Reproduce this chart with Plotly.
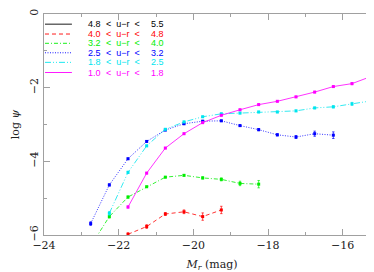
import plotly.graph_objects as go

# ---- data ----
bin_low = ["4.8", "4.0", "3.2", "2.5", "1.8", "1.0"]
bin_high = ["5.5", "4.8", "4.0", "3.2", "2.5", "1.8"]
colors = ["#000000", "#ff0000", "#00ee00", "#0000ff", "#00e5ee", "#ff00ff"]
dashes = ["solid", "4px,3px", "4px,2px,1px,2px", "1px,1.5px", "6px,2px,1px,2px,1px,2px", "solid"]

# 4.8 < u-r < 5.5 : entirely below the plotted range
x_black = []
y_black = []
e_black = []

x_red = [-21.75, -21.25, -20.75, -20.25, -19.75, -19.25]
y_red = [-5.98, -5.77, -5.43, -5.37, -5.50, -5.32]
e_red = [0.04, 0.05, 0.04, 0.05, 0.10, 0.10]

x_green = [-22.75, -22.25, -21.75, -21.25, -20.75, -20.25, -19.75, -19.25, -18.75, -18.25]
y_green = [-6.30, -5.50, -4.97, -4.69, -4.43, -4.38, -4.45, -4.49, -4.60, -4.62]
e_green = [0.05, 0.04, 0.03, 0.02, 0.02, 0.02, 0.03, 0.04, 0.06, 0.10]

x_blue = [-22.75, -22.25, -21.75, -21.25, -20.75, -20.25, -19.75, -19.25, -18.75, -18.25,
          -17.75, -17.25, -16.75, -16.25]
y_blue = [-5.69, -4.64, -3.93, -3.46, -3.15, -2.98, -2.91, -2.90, -3.03, -3.14,
          -3.28, -3.34, -3.25, -3.29]
e_blue = [0.05, 0.03, 0.02, 0.02, 0.02, 0.02, 0.02, 0.02, 0.02, 0.03,
          0.03, 0.04, 0.07, 0.09]

x_cyan = [-22.25, -21.75, -21.25, -20.75, -20.25, -19.75, -19.25, -18.75, -18.25, -17.75,
          -17.25, -16.75, -16.25, -15.75, -15.25]
y_cyan = [-5.41, -4.30, -3.58, -3.13, -2.93, -2.79, -2.71, -2.69, -2.66, -2.66,
          -2.63, -2.55, -2.52, -2.44, -2.36]
e_cyan = [0.05, 0.03, 0.02, 0.02, 0.02, 0.02, 0.02, 0.02, 0.02, 0.02,
          0.02, 0.02, 0.03, 0.04, 0.06]

x_mag = [-21.75, -21.25, -20.75, -20.25, -19.75, -19.25, -18.75, -18.25, -17.75, -17.25,
         -16.75, -16.25, -15.75, -15.25]
y_mag = [-5.24, -4.32, -3.64, -3.25, -2.95, -2.75, -2.60, -2.46, -2.37, -2.25,
         -2.12, -1.97, -1.89, -1.70]
e_mag = [0.03, 0.02, 0.02, 0.02, 0.02, 0.02, 0.02, 0.02, 0.02, 0.02,
         0.02, 0.02, 0.03, 0.04]

series = [
    (x_black, y_black, e_black),
    (x_red, y_red, e_red),
    (x_green, y_green, e_green),
    (x_blue, y_blue, e_blue),
    (x_cyan, y_cyan, e_cyan),
    (x_mag, y_mag, e_mag),
]

x_ticks = [-24, -22, -20, -18, -16]
y_ticks = [-6, -4, -2, 0]

fig = go.Figure()
for (xs, ys, es), c, d in zip(series, colors, dashes):
    fig.add_trace(go.Scatter(
        x=xs, y=ys, mode="lines+markers",
        line=dict(color=c, width=0.8, dash=d),
        marker=dict(color=c, size=3, symbol="square"),
        error_y=dict(type="data", array=es, color=c, thickness=0.7, width=1.2),
        showlegend=False, cliponaxis=True,
    ))

# ---- hand-made legend (top-left, inside the frame) ----
L, R, T, B = 36, 373, 3, 227  # plot area in pixels


def px(xp):
    return (xp - L) / (R - L)


def py(yp):
    return (B - yp) / (B - T)


row_y = [13.3, 23.3, 32.7, 42.3, 52.0, 62.3]
for lo, hi, c, d, ry in zip(bin_low, bin_high, colors, dashes, row_y):
    fig.add_shape(type="line", xref="paper", yref="paper",
                  x0=px(37), x1=px(64), y0=py(ry), y1=py(ry),
                  line=dict(color=c, width=0.9, dash=d))
    fnt = dict(family="Liberation Sans", size=9, color=c)
    fig.add_annotation(xref="paper", yref="paper", x=px(95), y=py(ry), text=lo,
                       showarrow=False, xanchor="right", yanchor="middle", font=fnt)
    fig.add_annotation(xref="paper", yref="paper", x=px(115.5), y=py(ry), text="<  u\u2212r  <",
                       showarrow=False, xanchor="center", yanchor="middle", font=fnt)
    fig.add_annotation(xref="paper", yref="paper", x=px(158), y=py(ry), text=hi,
                       showarrow=False, xanchor="right", yanchor="middle", font=fnt)

axis_common = dict(
    showgrid=False, zeroline=False,
    showline=True, linecolor="#a0a0a0", linewidth=1.3, mirror="ticks",
    ticks="inside", ticklen=6, tickwidth=1, tickcolor="#a0a0a0",
    ticklabeloverflow="allow",
    tickfont=dict(family="DejaVu Serif", size=11, color="#222"),
)

fig.update_layout(
    width=374, height=272,
    margin=dict(l=L, r=374 - R, t=T, b=272 - B),
    paper_bgcolor="white", plot_bgcolor="white",
    xaxis=dict(
        range=[-24, -15], tickvals=x_ticks,
        minor=dict(dtick=1, ticks="inside", ticklen=3, tickcolor="#a0a0a0"),
        title=dict(text="<i>M</i><sub><i>r</i></sub> (mag)", standoff=8,
                   font=dict(family="DejaVu Serif", size=11, color="#222")),
        **axis_common,
    ),
    yaxis=dict(
        range=[-6, 0], tickvals=y_ticks, tickangle=-90,
        minor=dict(dtick=1, ticks="inside", ticklen=3, tickcolor="#a0a0a0"),
        title=dict(text="log <i>\u03c8</i>", standoff=6,
                   font=dict(family="DejaVu Serif", size=11, color="#222")),
        **axis_common,
    ),
)

fig.write_html("out.html")
